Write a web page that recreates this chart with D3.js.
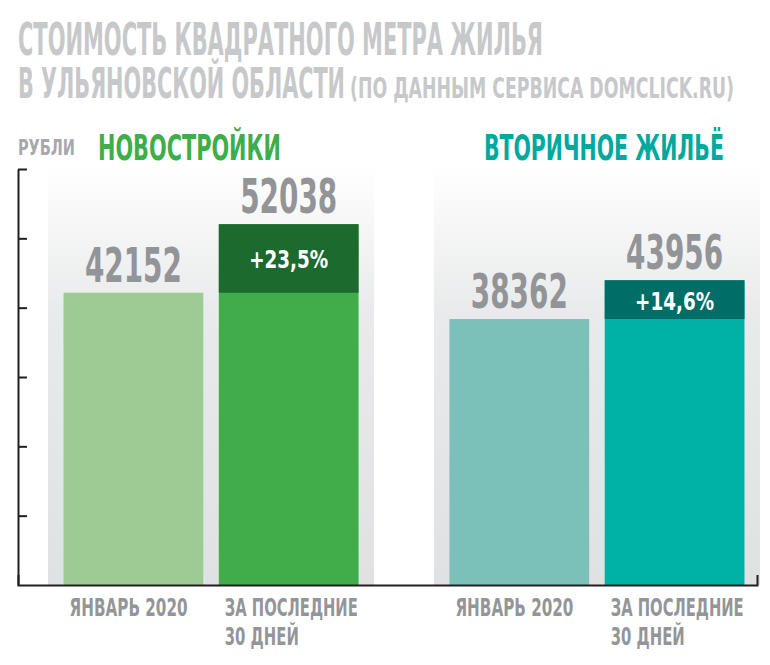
<!DOCTYPE html>
<html lang="ru">
<head>
<meta charset="UTF-8">
<title>Стоимость квадратного метра жилья</title>
<style>
  body { margin: 0; background: #fff; }
  svg text {
    font-family: "Liberation Sans Narrow", "DejaVu Sans Condensed", "Roboto", sans-serif;
    font-weight: bold;
  }
</style>
</head>
<body>
<div id="chart"></div>
<script src="https://cdn.jsdelivr.net/npm/d3@7/dist/d3.min.js"></script>
<script>
// data
const groups = ["НОВОСТРОЙКИ", "ВТОРИЧНОЕ ЖИЛЬЁ"];
const periods = ["ЯНВАРЬ 2020", "ЗА ПОСЛЕДНИЕ 30 ДНЕЙ"];
const periodLines = [["ЯНВАРЬ 2020"], ["ЗА ПОСЛЕДНИЕ", "30 ДНЕЙ"]];
const newBuild = [42152, 52038];
const resale = [38362, 43956];
const yTicks = [10000, 20000, 30000, 40000, 50000, 60000];

const seriesValues = [newBuild, resale];
const colors = [
  { light: "#9ecb93", main: "#41ad4a", dark: "#1c6a2d", head: "#3dae49" },
  { light: "#7cc1b9", main: "#00b1a6", dark: "#006d66", head: "#00a99d" }
];

const width = 770, height = 665;
const svg = d3.select("#chart").append("svg")
  .attr("width", width)
  .attr("height", height);

// squeeze text to the condensed look of the original
function fit(sel, w) {
  return sel.attr("textLength", w).attr("lengthAdjust", "spacingAndGlyphs");
}

// scales
const y = d3.scaleLinear().domain([0, 60000]).range([585, 169]);
const xGroup = d3.scaleBand().domain(groups).range([48, 760]).paddingInner(0.155);
const xBar = d3.scaleBand().domain(periods).range([0, xGroup.bandwidth()])
  .paddingInner(0.1).paddingOuter(0.1);

// background gradient for panels
const defs = svg.append("defs");
const grad = defs.append("linearGradient")
  .attr("id", "panelGrad").attr("x1", 0).attr("y1", 0).attr("x2", 0).attr("y2", 1);
grad.append("stop").attr("offset", "0%").attr("stop-color", "#ffffff");
grad.append("stop").attr("offset", "35%").attr("stop-color", "#e9eaeb");
grad.append("stop").attr("offset", "100%").attr("stop-color", "#e0e1e3");

// title
const title1 = svg.append("text")
  .attr("x", 18).attr("y", 55)
  .attr("font-size", 44).attr("fill", "#c7c8ca")
  .text("СТОИМОСТЬ КВАДРАТНОГО МЕТРА ЖИЛЬЯ");
fit(title1, 525);
const title2 = svg.append("text")
  .attr("x", 18).attr("y", 98)
  .attr("font-size", 42).attr("fill", "#c7c8ca")
  .text("В УЛЬЯНОВСКОЙ ОБЛАСТИ");
fit(title2, 327);
const title3 = svg.append("text")
  .attr("x", 350).attr("y", 98)
  .attr("font-size", 29).attr("fill", "#c7c8ca")
  .text("(ПО ДАННЫМ СЕРВИСА DOMCLICK.RU)");
fit(title3, 384);

// unit label
fit(svg.append("text")
  .attr("x", 18).attr("y", 155)
  .attr("font-size", 21).attr("fill", "#a6a8ab")
  .text("РУБЛИ"), 57);

// groups
const g = svg.selectAll(".group")
  .data(groups.map((name, i) => ({ name, i, values: seriesValues[i] })))
  .join("g")
  .attr("class", "group")
  .attr("transform", d => `translate(${xGroup(d.name)},0)`);

g.append("rect")
  .attr("x", 0)
  .attr("y", y.range()[1] - 4)
  .attr("width", xGroup.bandwidth())
  .attr("height", y(0) - y.range()[1] + 4)
  .attr("fill", "url(#panelGrad)");

g.each(function(d) {
  fit(d3.select(this).append("text")
    .attr("x", 50).attr("y", 160)
    .attr("font-size", 35).attr("fill", colors[d.i].head)
    .text(d.name), d.i === 0 ? 183 : 240);
});

// bars
const bars = g.selectAll(".bar")
  .data(d => periods.map((p, j) => ({ period: p, j, gi: d.i, value: d.values[j], prev: d.values[0] })))
  .join("g")
  .attr("class", "bar");

bars.append("rect")
  .attr("x", d => xBar(d.period))
  .attr("y", d => y(d.value))
  .attr("width", xBar.bandwidth())
  .attr("height", d => y(0) - y(d.value))
  .attr("fill", d => d.j === 0 ? colors[d.gi].light : colors[d.gi].main);

// growth segment
const growth = bars.filter(d => d.j === 1);
growth.append("rect")
  .attr("x", d => xBar(d.period))
  .attr("y", d => y(d.value))
  .attr("width", xBar.bandwidth())
  .attr("height", d => y(d.prev) - y(d.value))
  .attr("fill", d => colors[d.gi].dark);

const pct = d3.format(".1f");
growth.each(function(d) {
  const t = d3.select(this).append("text")
    .attr("x", xBar(d.period) + xBar.bandwidth() / 2)
    .attr("y", (y(d.value) + y(d.prev)) / 2 + 10)
    .attr("text-anchor", "middle")
    .attr("font-size", 25).attr("fill", "#fff")
    .text("+" + pct((d.value / d.prev - 1) * 100).replace(".", ",") + "%");
  fit(t, 79);
});

// value labels
bars.each(function(d) {
  fit(d3.select(this).append("text")
    .attr("x", xBar(d.period) + xBar.bandwidth() / 2)
    .attr("y", y(d.value) - 11)
    .attr("text-anchor", "middle")
    .attr("font-size", 48).attr("fill", "#929497")
    .text(d.value), 97);
});

// category labels
const labelW = { "ЯНВАРЬ 2020": 118, "ЗА ПОСЛЕДНИЕ": 133, "30 ДНЕЙ": 74 };
bars.each(function(d) {
  const sel = d3.select(this);
  periodLines[d.j].forEach((line, k) => {
    fit(sel.append("text")
      .attr("x", xBar(d.period) + 6)
      .attr("y", 616 + k * 29)
      .attr("font-size", 24).attr("fill", "#939598")
      .text(line), labelW[line]);
  });
});

// axes
const yAxis = svg.append("g")
  .attr("transform", "translate(18,0)")
  .call(d3.axisRight(y).tickValues(yTicks).tickSize(9).tickSizeOuter(0).tickFormat(""));
yAxis.selectAll("path, line").attr("stroke", "#231f20").attr("stroke-width", 2);

const xAxis = svg.append("g")
  .attr("transform", `translate(0,${y(0)})`)
  .call(d3.axisTop(d3.scaleLinear().range([18, 757])).ticks(0).tickSizeOuter(10));
xAxis.select(".domain").attr("stroke", "#231f20").attr("stroke-width", 2).attr("fill", "none");
</script>
</body>
</html>
